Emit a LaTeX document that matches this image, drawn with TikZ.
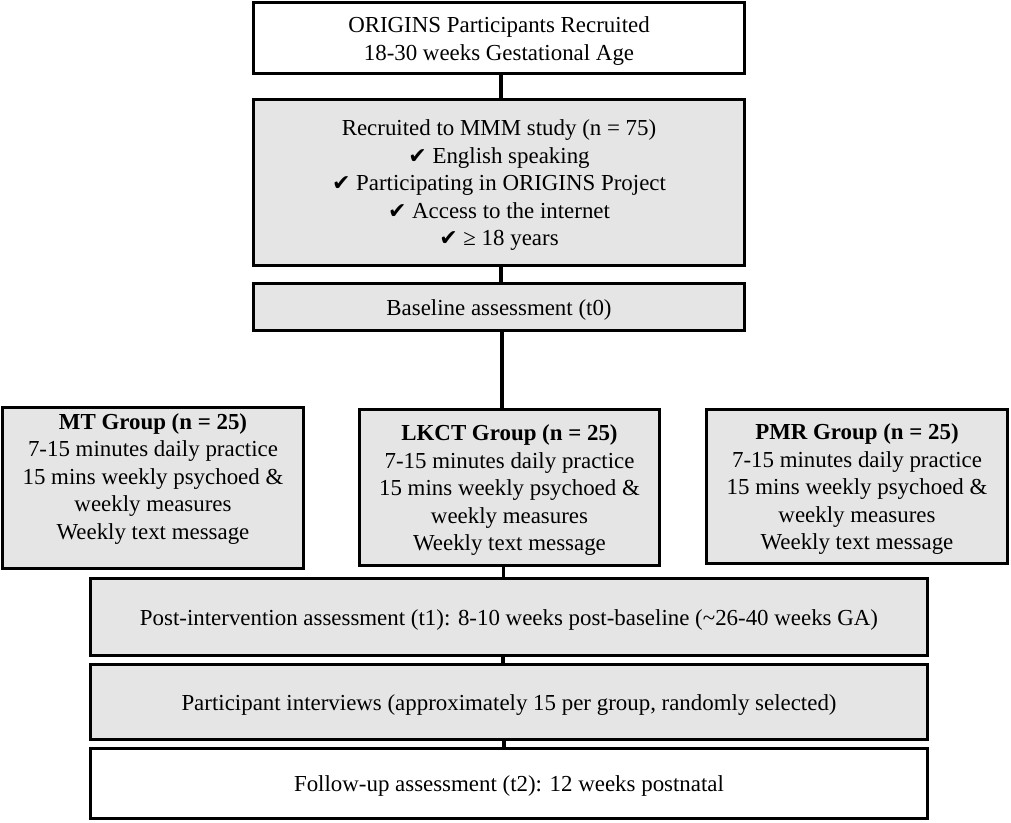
\documentclass[tikz,border=0pt]{standalone}
\usepackage{fontspec}
\setmainfont{Liberation Serif}
\newfontfamily\symf{DejaVu Sans}
\newcommand{\chk}{{\symf\fontsize{22}{22}\selectfont ✔}}
\newcommand{\lowr}{\rule{0pt}{21.5pt}}
\begin{document}
\begin{tikzpicture}[x=1pt,y=-1pt,
 box/.style={draw, line width=3pt, rectangle, inner sep=0pt, align=center, font=\fontsize{22.9}{27.5}\selectfont},
 gbox/.style={box, fill=gray!20},
 wbox/.style={box, fill=white},
 conn/.style={line width=4pt},
 conn2/.style={line width=3.5pt}]
\useasboundingbox[fill=white] (0,0) rectangle (1011,822);

\node[wbox, minimum width=491pt, minimum height=71pt] (b1) at (499,38)
 {\lowr ORIGINS Participants Recruited\\18-30 weeks Gestational Age};
\node[gbox, minimum width=491pt, minimum height=166pt] (b2) at (499,182.5)
 {\lowr Recruited to MMM study (n = 75)\\\chk{} English speaking\\\chk{} Participating in ORIGINS Project\\\chk{} Access to the internet\\\chk{} ≥ 18 years};
\node[gbox, minimum width=491pt, minimum height=47pt] (b3) at (499,307)
 {\lowr Baseline assessment (t0)};

\node[gbox, minimum width=301pt, minimum height=157pt] (mt) at (153,488)
 {\lowr\textbf{MT Group (n = 25)}\\7-15 minutes daily practice\\15 mins weekly psychoed \&\\weekly measures\\Weekly text message\\[2pt]\mbox{}};
\node[gbox, minimum width=300pt, minimum height=156pt] (lkct) at (509.5,487.5)
 {\lowr\textbf{LKCT Group (n = 25)}\\7-15 minutes daily practice\\15 mins weekly psychoed \&\\weekly measures\\Weekly text message};
\node[gbox, minimum width=301pt, minimum height=154pt] (pmr) at (857,486.5)
 {\lowr\textbf{PMR Group (n = 25)}\\7-15 minutes daily practice\\15 mins weekly psychoed \&\\weekly measures\\Weekly text message};

\node[gbox, minimum width=837pt, minimum height=77pt] (post) at (509,617)
 {\lowr Post-intervention assessment (t1): 8-10 weeks post-baseline (\textasciitilde 26-40 weeks GA)};
\node[gbox, minimum width=837pt, minimum height=75pt] (int) at (509,702)
 {\lowr Participant interviews (approximately 15 per group, randomly selected)};
\node[wbox, minimum width=837pt, minimum height=70pt] (fol) at (509,783.5)
 {\lowr Follow-up assessment (t2): 12 weeks postnatal};

\draw[conn] ([xshift=2pt]b1.south) -- ([xshift=2pt]b2.north);
\draw[conn] ([xshift=2pt]b2.south) -- ([xshift=2pt]b3.north);
\draw[conn] ([xshift=3pt]b3.south) -- ([xshift=3pt]b3.south |- lkct.north);
\draw[conn2] ([xshift=-6pt]lkct.south) -- ([xshift=-6pt]lkct.south |- post.north);
\draw[conn2] ([xshift=-6pt]post.south) -- ([xshift=-6pt]int.north);
\draw[conn2] ([xshift=-5pt]int.south) -- ([xshift=-5pt]fol.north);
\end{tikzpicture}
\end{document}
